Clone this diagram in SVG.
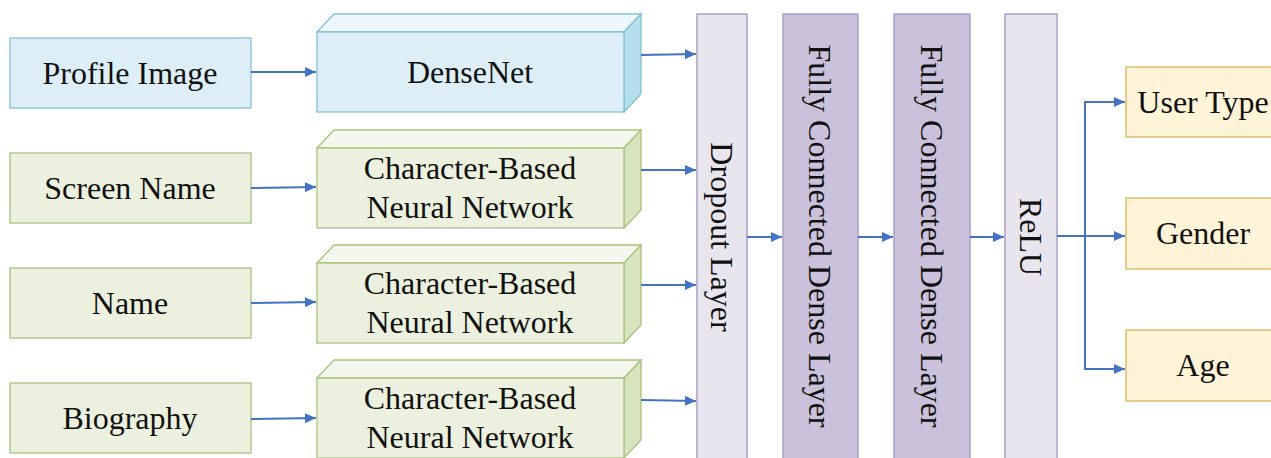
<svg xmlns="http://www.w3.org/2000/svg" width="1271" height="458" viewBox="0 0 1271 458">
<style>
text{font-family:"Liberation Serif","Times New Roman",serif;font-size:32px;fill:#111;text-anchor:middle;dominant-baseline:central}
.blue{fill:#ddeef6;stroke:#85c1d3;stroke-width:1.3}
.btop{fill:#eef7fb;stroke:#85c1d3;stroke-width:1.3}
.bside{fill:#b5dfeb;stroke:#85c1d3;stroke-width:1.3}
.green{fill:#ebf1de;stroke:#a8c47e;stroke-width:1.3}
.gtop{fill:#f4f7ee;stroke:#a8c47e;stroke-width:1.3}
.gside{fill:#d7e4bd;stroke:#a8c47e;stroke-width:1.3}
.light{fill:#e8e5ef;stroke:#aaa0c6;stroke-width:1.5}
.dark{fill:#ccc1da;stroke:#aaa0c6;stroke-width:1.5}
.yellow{fill:#fff4d7;stroke:#d8b45a;stroke-width:1.3}
.conn{stroke:#4472c4;stroke-width:2;fill:none}
</style>
<defs>
<marker id="arr" markerUnits="userSpaceOnUse" markerWidth="12" markerHeight="10" refX="11" refY="5" orient="auto">
<path d="M0,0 L11,5 L0,10 Z" fill="#4472c4"/>
</marker>
</defs>
<rect width="1271" height="458" fill="#fff"/>

<g id="profile-image"><rect class="blue" x="10" y="38" width="241" height="70"/><text x="130" y="73">Profile Image</text></g>
<g id="screen-name"><rect class="green" x="10" y="153" width="241" height="70"/><text x="130" y="188">Screen Name</text></g>
<g id="name"><rect class="green" x="10" y="268" width="241" height="70"/><text x="130" y="303">Name</text></g>
<g id="biography"><rect class="green" x="10" y="383" width="241" height="70"/><text x="130" y="418">Biography</text></g>

<g id="densenet">
<path class="btop" d="M317,32 L334,14 L641,14 L624,32 Z"/>
<path class="bside" d="M624,32 L641,14 L641,94 L624,112 Z"/>
<rect class="blue" x="317" y="32" width="307" height="80"/>
<text x="470" y="72">DenseNet</text>
</g>
<g id="cbnn-1">
<path class="gtop" d="M317,148 L334,130 L641,130 L624,148 Z"/>
<path class="gside" d="M624,148 L641,130 L641,210 L624,228 Z"/>
<rect class="green" x="317" y="148" width="307" height="80"/>
<text x="470" y="168">Character-Based</text><text x="470" y="207">Neural Network</text>
</g>
<g id="cbnn-2">
<path class="gtop" d="M317,263 L334,245 L641,245 L624,263 Z"/>
<path class="gside" d="M624,263 L641,245 L641,325 L624,343 Z"/>
<rect class="green" x="317" y="263" width="307" height="80"/>
<text x="470" y="283">Character-Based</text><text x="470" y="322">Neural Network</text>
</g>
<g id="cbnn-3">
<path class="gtop" d="M317,378 L334,360 L641,360 L624,378 Z"/>
<path class="gside" d="M624,378 L641,360 L641,440 L624,458 Z"/>
<rect class="green" x="317" y="378" width="307" height="80"/>
<text x="470" y="398">Character-Based</text><text x="470" y="437">Neural Network</text>
</g>

<g id="dropout"><rect class="light" x="697" y="14" width="50" height="450"/><text transform="rotate(90 722 237)" x="722" y="237">Dropout Layer</text></g>
<g id="fc1"><rect class="dark" x="783" y="14" width="75" height="450"/><text transform="rotate(90 820 236)" x="820" y="236">Fully Connected Dense Layer</text></g>
<g id="fc2"><rect class="dark" x="894" y="14" width="76" height="450"/><text transform="rotate(90 932 236)" x="932" y="236">Fully Connected Dense Layer</text></g>
<g id="relu"><rect class="light" x="1005" y="14" width="52" height="450"/><text transform="rotate(90 1031 237)" x="1031" y="237">ReLU</text></g>

<g id="user-type"><rect class="yellow" x="1126" y="67" width="160" height="70"/><text x="1203" y="102">User Type</text></g>
<g id="gender"><rect class="yellow" x="1126" y="198" width="160" height="71"/><text x="1203" y="233">Gender</text></g>
<g id="age"><rect class="yellow" x="1126" y="330" width="160" height="71"/><text x="1203" y="365">Age</text></g>

<g id="connectors">
<path class="conn" marker-end="url(#arr)" d="M251,72 L316,72"/>
<path class="conn" marker-end="url(#arr)" d="M251,188 L316,187"/>
<path class="conn" marker-end="url(#arr)" d="M251,303 L316,302"/>
<path class="conn" marker-end="url(#arr)" d="M251,419 L316,418"/>
<path class="conn" marker-end="url(#arr)" d="M641,55 L696,54"/>
<path class="conn" marker-end="url(#arr)" d="M641,170 L696,170"/>
<path class="conn" marker-end="url(#arr)" d="M641,285 L696,285"/>
<path class="conn" marker-end="url(#arr)" d="M641,400 L696,401"/>
<path class="conn" marker-end="url(#arr)" d="M747,237 L782,237"/>
<path class="conn" marker-end="url(#arr)" d="M858,237 L893,237"/>
<path class="conn" marker-end="url(#arr)" d="M970,237 L1004,237"/>
<path class="conn" marker-end="url(#arr)" d="M1057,236 L1125,236"/>
<path class="conn" marker-end="url(#arr)" d="M1085,236 L1085,102 L1125,102"/>
<path class="conn" marker-end="url(#arr)" d="M1085,236 L1085,369 L1125,369"/>
</g>
</svg>
